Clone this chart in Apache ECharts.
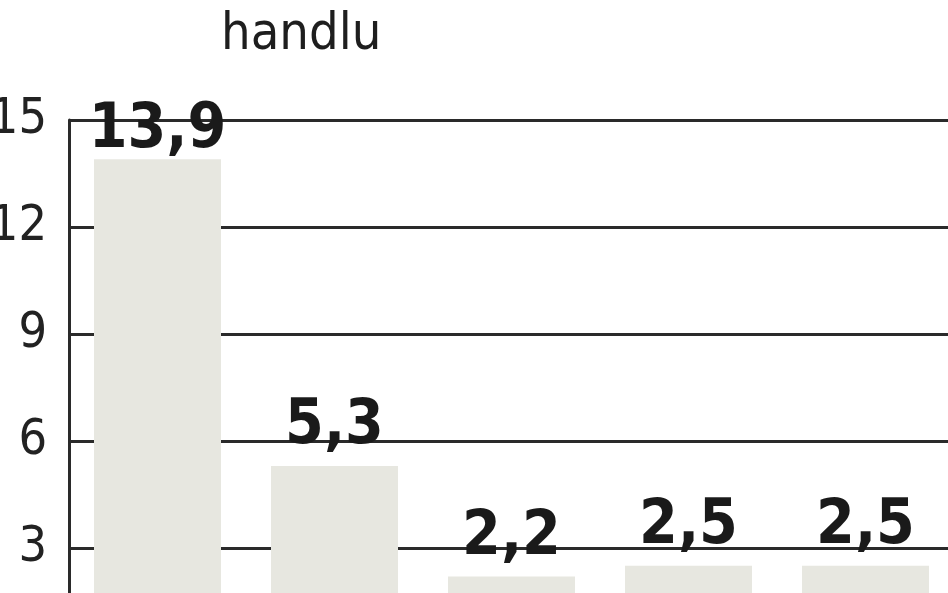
<!DOCTYPE html>
<html>
<head>
<meta charset="utf-8">
<script src="https://cdn.jsdelivr.net/npm/echarts@6/dist/echarts.min.js"></script>
<style>
html,body{margin:0;padding:0;background:#fff;}
#chart{width:948px;height:593px;}
</style>
</head>
<body>
<div id="chart"></div>
<script>
var categories = ['k1', 'k2', 'k3', 'k4', 'k5'];
var values = [13.9, 5.3, 2.2, 2.5, 2.5];
var yTicks = [0, 3, 6, 9, 12, 15];
var topLabel = 'handlu';

var FONT = '"DejaVu Sans Condensed", "Liberation Sans Narrow", "Noto Sans", sans-serif';
var seriesData = values.map(function (v, i) {
  // the tallest bar's label sits lower, overlapping the top gridline
  return i === 0 ? { value: v, label: { distance: -3 } } : v;
});
var chart = echarts.init(document.getElementById('chart'));
chart.setOption({
  animation: false,
  backgroundColor: '#ffffff',
  grid: { left: 69, right: -6, top: 120, bottom: -62, containLabel: false, outerBoundsMode: 'none' },
  graphic: [{
    type: 'text',
    left: 221,
    top: 9,
    style: {
      text: topLabel,
      font: '52px ' + FONT,
      fill: '#1e1e1e'
    }
  }],
  xAxis: {
    type: 'category',
    data: categories,
    axisLine: { show: false },
    axisTick: { show: false },
    axisLabel: { show: false },
    splitLine: { show: false }
  },
  yAxis: {
    type: 'value',
    min: yTicks[0],
    max: yTicks[yTicks.length - 1],
    interval: 3,
    axisLine: { show: true, lineStyle: { color: '#2a2a2a', width: 3 } },
    axisTick: { show: false },
    axisLabel: {
      margin: 22,
      fontSize: 50,
      fontFamily: FONT,
      color: '#222',
      padding: [0, 0, 10, 0],
      formatter: function (v) { return v === 0 ? '' : String(v); }
    },
    splitLine: { show: true, lineStyle: { color: '#2a2a2a', width: 3 } }
  },
  series: [{
    type: 'bar',
    data: seriesData,
    barWidth: 127,
    itemStyle: { color: '#e7e7e0' },
    label: {
      show: true,
      position: 'top',
      distance: 8,
      fontFamily: FONT,
      fontWeight: 'bold',
      fontSize: 62,
      color: '#1a1a1a',
      formatter: function (p) { return String(p.value).replace('.', ','); }
    }
  }]
});
</script>
</body>
</html>
